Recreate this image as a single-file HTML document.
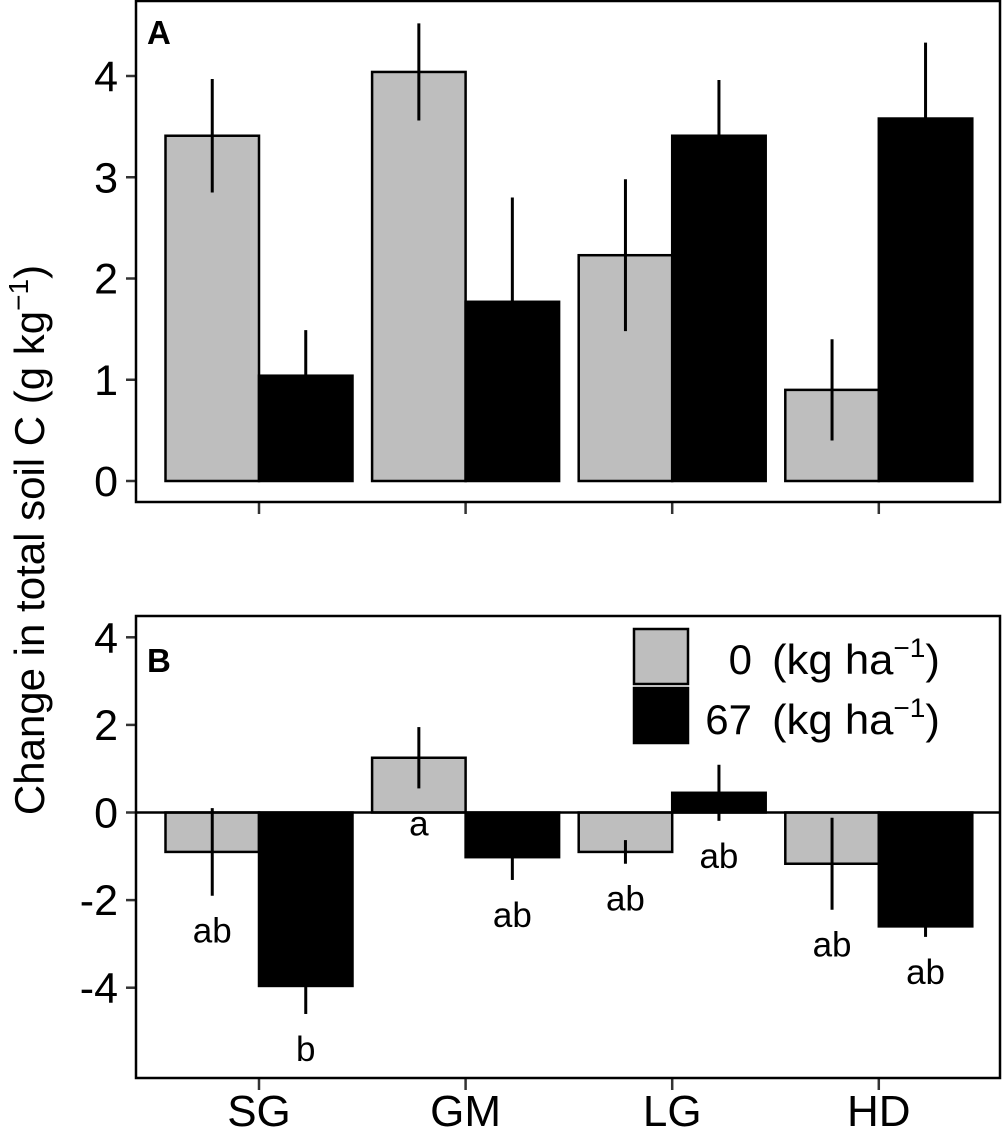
<!DOCTYPE html>
<html><head><meta charset="utf-8"><style>
html,body{margin:0;padding:0;background:#fff;}
svg{display:block;font-family:"Liberation Sans",sans-serif;}
</style></head><body>
<svg id="chart" width="1004" height="1129" viewBox="0 0 1004 1129" xmlns="http://www.w3.org/2000/svg"></svg>
<script>
const categories = ["SG","GM","LG","HD"];
const seriesNames = ["0","67"];
const aVals0 = [3.41, 4.04, 2.23, 0.90];
const aErr0  = [0.56, 0.48, 0.75, 0.50];
const aVals67 = [1.04, 1.77, 3.41, 3.58];
const aErr67  = [0.45, 1.03, 0.55, 0.75];
const bVals0 = [-0.90, 1.25, -0.90, -1.17];
const bErr0  = [1.00, 0.70, 0.27, 1.05];
const bVals67 = [-3.96, -1.02, 0.45, -2.60];
const bErr67  = [0.64, 0.52, 0.64, 0.24];
const bLetters0 = ["ab","a","ab","ab"];
const bLetters67 = ["b","ab","ab","ab"];
const aTicks = [0,1,2,3,4];
const bTicks = [-4,-2,0,2,4];

const svg = document.getElementById('chart');
const NS = "http://www.w3.org/2000/svg";
function mk(tag, attrs, parent){
  const e = document.createElementNS(NS, tag);
  for (const k in attrs) e.setAttribute(k, attrs[k]);
  (parent||svg).appendChild(e);
  return e;
}
const left = 136, right = 1000;
const xc = i => 259 + i*206.6;
const barW = 93.5;
const yA = v => 481 - 101.25*v;
const yB = v => 812.5 - 43.8*v;

function panel(name, top, bottom, yf, ticks, v0, e0, v1, e1, letters0, letters1, label, labelY){
  const g = mk('g', {});
  
  
  ticks.forEach(t => {
    const tl = mk('line', {x1:left-10, x2:left, y1:yf(t), y2:yf(t), stroke:'#333', 'stroke-width':2.5}, g);
    
    
    const tx = mk('text', {x:left-18, y:yf(t)+15, 'text-anchor':'end', 'font-size':43, fill:'#000'}, g);
    tx.textContent = t;
    
    
  });
  categories.forEach((c,i) => {
    const tk = mk('line', {x1:xc(i), x2:xc(i), y1:bottom, y2:bottom+12, stroke:'#333', 'stroke-width':2.5}, g);
    
    
  });
  const zero = yf(0);
  [[v0,e0,'#bebebe',-1,letters0],[v1,e1,'#000',0,letters1]].forEach(([vals,errs,fill,off,letters],s) => {
    vals.forEach((v,i) => {
      const x = xc(i) + off*barW;
      const y1 = Math.min(yf(v), zero), h = Math.abs(yf(v)-zero);
      const r = mk('rect', {x:x, y:y1, width:barW, height:h, fill:fill, stroke:'#000', 'stroke-width':2.5}, g);
      
      
      const ex = x + barW/2;
      const el = mk('line', {x1:ex, x2:ex, y1:yf(v+errs[i]), y2:yf(v-errs[i]), stroke:'#000', 'stroke-width':3}, g);
      
      
      if (letters){
        const lt = mk('text', {x:ex, y:yf(v-errs[i])+47, 'text-anchor':'middle', 'font-size':35, fill:'#000'}, g);
        lt.textContent = letters[i];
        
        
      }
    });
  });
  if (name === 'panel-b'){
    const zl = mk('line', {x1:left, x2:right, y1:zero, y2:zero, stroke:'#000', 'stroke-width':2.5}, g);
    
    
  }
  const fr = mk('rect', {x:left, y:top, width:right-left, height:bottom-top, fill:'none', stroke:'#000', 'stroke-width':2.5}, g);
  
  
  const pl = mk('text', {x:147, y:labelY, 'font-size':33, 'font-weight':'bold', fill:'#000'}, g);
  pl.textContent = label;
  
  
}
panel('panel-a', 1, 502, yA, aTicks, aVals0, aErr0, aVals67, aErr67, null, null, 'A', 44);
panel('panel-b', 616, 1078, yB, bTicks, bVals0, bErr0, bVals67, bErr67, bLetters0, bLetters67, 'B', 672);

categories.forEach((c,i) => {
  const t = mk('text', {x:xc(i), y:1126, 'text-anchor':'middle', 'font-size':44, fill:'#000'});
  t.textContent = c;
  
  
});

const leg = mk('g', {});


[['#bebebe',629,'0',674],['#000',688,'67',734]].forEach(([fill,y,lbl,by]) => {
  const r = mk('rect', {x:634, y:y, width:54, height:55, fill:fill, stroke:'#000', 'stroke-width':2.5}, leg);
  
  
  const t = mk('text', {x:752, y:by, 'text-anchor':'end', 'font-size':42, fill:'#000'}, leg);
  t.textContent = lbl;
  
  
  const u = mk('text', {x:772, y:by, 'font-size':42, fill:'#000', textLength:168, lengthAdjust:'spacingAndGlyphs'}, leg);
  u.innerHTML = '(kg ha<tspan dy="-17" font-size="27">\u22121</tspan><tspan dy="17">)</tspan>';
  
  
});

const yt = mk('text', {x:0, y:0, transform:'translate(44,540) rotate(-90)', 'text-anchor':'middle', 'font-size':42, fill:'#000'});
yt.innerHTML = 'Change in total soil C (g  kg<tspan dy="-16" font-size="28">\u22121</tspan><tspan dy="16">)</tspan>';


</script>
</body></html>
